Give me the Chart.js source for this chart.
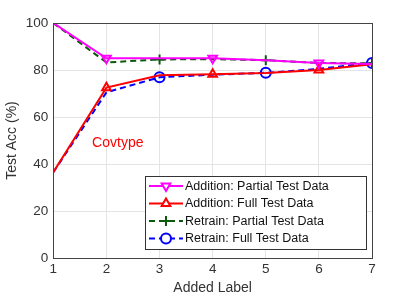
<!DOCTYPE html>
<html>
<head>
<meta charset="utf-8">
<script src="https://cdn.jsdelivr.net/npm/chart.js@4/dist/chart.umd.min.js"></script>
<style>
  html, body { margin: 0; padding: 0; background: #fff; }
  #wrap { width: 411px; height: 299px; }
</style>
</head>
<body>
<div id="wrap"><canvas id="chart" width="411" height="299"></canvas></div>
<script>
// Data
const addedLabels = [1, 2, 3, 4, 5, 6, 7];
const additionPartial = [100, 85, 85, 85, 84.2, 83, 82.5];
const additionFull = [36.5, 72.5, 77.8, 78.2, 78.7, 80, 82.5];
const retrainPartial = [100, 83.2, 84.5, 84.6, 84.2, 83, 82.8];
const retrainFull = [36.5, 70.5, 76.9, 78, 78.8, 80.5, 83];
const yTicks = [0, 20, 40, 60, 80, 100];
const seriesNames = [
    'Addition: Partial Test Data',
    'Addition: Full Test Data',
    'Retrain: Partial Test Data',
    'Retrain: Full Test Data'
];

const FONT = '"Liberation Sans", Arial, sans-serif';

function toPoints(values) {
    return values.map((v, i) => ({ x: addedLabels[i], y: v }));
}
// markers only on every other point, like the original
function markerRadius(showOn, r) {
    return addedLabels.map(x => showOn.includes(x) ? r : 0);
}

// legend drawn inside the plot box
const boxLegend = {
    id: 'boxLegend',
    afterDatasetsDraw(chart) {
        const ctx = chart.ctx;
        const left = 145, top = 176, w = 221, h = 73;
        ctx.save();
        ctx.fillStyle = '#fff';
        ctx.fillRect(left, top, w, h);
        ctx.strokeStyle = '#333';
        ctx.lineWidth = 1;
        ctx.strokeRect(left + 0.5, top + 0.5, w, h);
        ctx.font = '12.5px ' + FONT;
        ctx.textBaseline = 'middle';
        chart.data.datasets.forEach((ds, i) => {
            const y = top + 10 + i * 17.5;
            ctx.strokeStyle = ds.borderColor;
            ctx.lineWidth = 2;
            ctx.setLineDash(ds.borderDash || []);
            ctx.beginPath();
            ctx.moveTo(left + 4, y);
            ctx.lineTo(left + 38, y);
            ctx.stroke();
            ctx.setLineDash([]);
            ctx.fillStyle = '#fff';
            Chart.helpers.drawPoint(ctx, {
                pointStyle: ds.pointStyle,
                rotation: ds.rotation || 0,
                radius: 5,
                borderWidth: 2
            }, left + 21, y);
            ctx.fillStyle = '#111';
            ctx.fillText(ds.label, left + 40, y + 0.5);
        });
        ctx.restore();
    }
};

const covtypeText = {
    id: 'covtypeText',
    afterDatasetsDraw(chart) {
        const ctx = chart.ctx;
        const xs = chart.scales.x, ys = chart.scales.y;
        ctx.save();
        ctx.fillStyle = '#ff0000';
        ctx.font = '14px ' + FONT;
        ctx.textBaseline = 'middle';
        ctx.fillText('Covtype', xs.getPixelForValue(1.73), ys.getPixelForValue(49));
        ctx.restore();
    }
};

const frameBox = {
    id: 'frameBox',
    afterDraw(chart) {
        const a = chart.chartArea;
        const ctx = chart.ctx;
        ctx.save();
        ctx.strokeStyle = '#444';
        ctx.lineWidth = 1;
        ctx.strokeRect(Math.round(a.left) + 0.5, Math.round(a.top) + 0.5,
            Math.round(a.right - a.left), Math.round(a.bottom - a.top));
        ctx.restore();
    }
};

function dataset(label, values, color, dash, style, rotation, markersAt) {
    const ds = {
        label: label,
        data: toPoints(values),
        borderColor: color,
        backgroundColor: color,
        borderWidth: 2,
        borderDash: dash,
        pointStyle: style,
        rotation: rotation,
        pointRadius: markerRadius(markersAt, 5),
        pointBorderWidth: 2,
        pointBackgroundColor: 'rgba(0,0,0,0)',
        pointBorderColor: color,
        tension: 0
    };
    return ds;
}

new Chart(document.getElementById('chart'), {
    type: 'line',
    data: {
        datasets: [
            dataset(seriesNames[0], additionPartial, '#ff00ff', [], 'triangle', 180, [2, 4, 6]),
            dataset(seriesNames[1], additionFull, '#ff0000', [], 'triangle', 0, [2, 4, 6]),
            dataset(seriesNames[2], retrainPartial, '#0b5a0b', [6, 4], 'cross', 0, [3, 5, 7]),
            dataset(seriesNames[3], retrainFull, '#0000ff', [6, 4], 'circle', 0, [3, 5, 7])
        ]
    },
    options: {
        responsive: false,
        animation: false,
        layout: { padding: { left: 4, right: 39, top: 23, bottom: 2 } },
        plugins: {
            legend: { display: false },
            tooltip: { enabled: false }
        },
        scales: {
            x: {
                type: 'linear',
                min: 1,
                max: 7,
                afterBuildTicks: axis => { axis.ticks = addedLabels.map(v => ({ value: v })); },
                grid: { color: '#e4e4e4', drawTicks: false },
                border: { display: false },
                ticks: { color: '#333', font: { family: FONT, size: 13.5 }, padding: 3 },
                title: { display: true, text: 'Added Label', color: '#333', font: { family: FONT, size: 14 }, padding: { top: 0, bottom: 0 } }
            },
            y: {
                min: 0,
                max: 100,
                afterBuildTicks: axis => { axis.ticks = yTicks.map(v => ({ value: v })); },
                grid: { color: '#e4e4e4', drawTicks: false },
                border: { display: false },
                ticks: { color: '#333', font: { family: FONT, size: 13.5 }, padding: 5 },
                title: { display: true, text: 'Test Acc (%)', color: '#333', font: { family: FONT, size: 14 }, padding: { top: 0, bottom: 0 } }
            }
        }
    },
    plugins: [frameBox, covtypeText, boxLegend]
});
</script>
</body>
</html>
